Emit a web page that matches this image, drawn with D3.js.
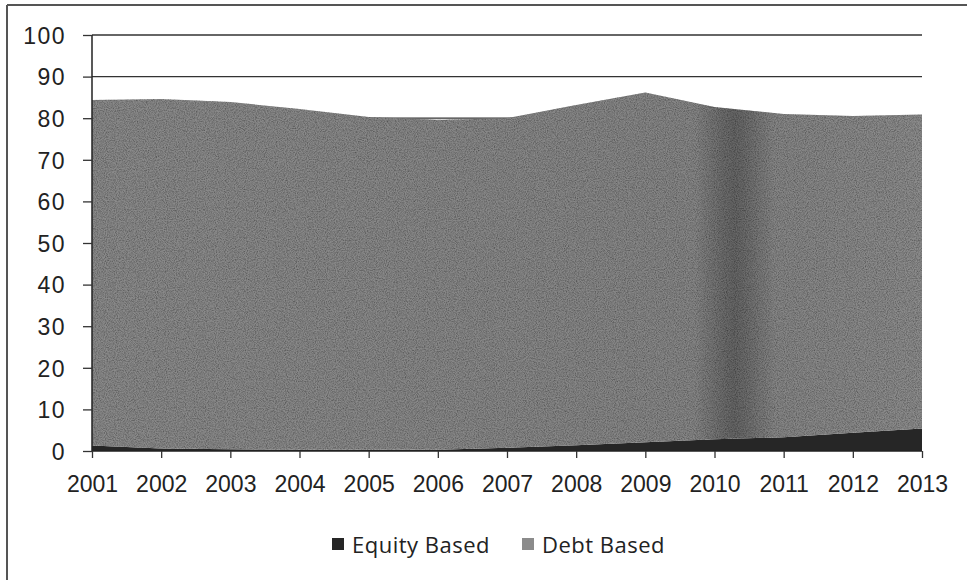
<!DOCTYPE html>
<html>
<head>
<meta charset="utf-8">
<script src="https://cdn.jsdelivr.net/npm/d3@7"></script>
<style>
  body { margin: 0; background: #fff; }
  svg { font-family: "Open Sans", "Liberation Sans", sans-serif; }
</style>
</head>
<body>
<svg id="chart"></svg>
<script>
const years = [2001, 2002, 2003, 2004, 2005, 2006, 2007, 2008, 2009, 2010, 2011, 2012, 2013];
const equityBased = [1.3, 0.6, 0.4, 0.3, 0.3, 0.3, 0.8, 1.4, 2.1, 2.8, 3.3, 4.4, 5.4];
const debtBased = [83.1, 84.0, 83.5, 81.9, 80.0, 79.3, 79.2, 81.8, 84.1, 79.9, 77.7, 76.1, 75.5];
const yTicks = [0, 10, 20, 30, 40, 50, 60, 70, 80, 90, 100];
const seriesNames = ["Equity Based", "Debt Based"];

const W = 967, H = 580;
const margin = { top: 35, right: 45, bottom: 129, left: 92 },
      width = W - margin.left - margin.right,
      height = H - margin.top - margin.bottom;

const svg = d3.select("#chart").attr("width", W).attr("height", H);

// outer frame (only top and left edges survive in the scan)
svg.append("line").attr("x1", 7).attr("x2", W).attr("y1", 5).attr("y2", 5)
   .attr("stroke", "#555").attr("stroke-width", 2);
svg.append("line").attr("x1", 7).attr("x2", 7).attr("y1", 5).attr("y2", H)
   .attr("stroke", "#555").attr("stroke-width", 2);

const g = svg.append("g").attr("transform", `translate(${margin.left},${margin.top})`);

const x = d3.scalePoint().domain(years).range([0, width]);
const y = d3.scaleLinear().domain([0, 100]).range([height, 0]);

const rows = years.map((yr, i) => ({ year: yr, equity: equityBased[i], debt: debtBased[i] }));
const layers = d3.stack().keys(["equity", "debt"])(rows);

// gridlines
g.selectAll(".grid").data(yTicks.filter(d => d > 0)).enter().append("line")
 .attr("x1", 0).attr("x2", width)
 .attr("y1", d => y(d)).attr("y2", d => y(d))
 .attr("stroke", "#333").attr("stroke-width", 1.3);

// darker scan band around 2010 + grain
const defs = svg.append("defs");
const grad = defs.append("linearGradient").attr("id", "debtGrad")
  .attr("gradientUnits", "userSpaceOnUse")
  .attr("x1", 0).attr("x2", width).attr("y1", 0).attr("y2", 0);
const bandC = x(2010) + 20, bw = 40;
[[0, "#8a8a8a"], [(bandC - bw) / width, "#868686"], [(bandC - 12) / width, "#6e6e6e"],
 [bandC / width, "#666"], [(bandC + 12) / width, "#6e6e6e"],
 [(bandC + bw) / width, "#868686"], [1, "#8c8c8c"]]
  .forEach(([o, c]) => grad.append("stop").attr("offset", o).attr("stop-color", c));

const grain = defs.append("filter").attr("id", "grain")
  .attr("x", 0).attr("y", 0).attr("width", 1).attr("height", 1);
grain.append("feTurbulence").attr("type", "fractalNoise")
  .attr("baseFrequency", 0.9).attr("numOctaves", 2).attr("seed", 3).attr("result", "noise");
grain.append("feColorMatrix").attr("in", "noise").attr("type", "matrix")
  .attr("values", "0 0 0 0 0  0 0 0 0 0  0 0 0 0 0  0 0 0 -1.1 0.75").attr("result", "dots");
grain.append("feComposite").attr("in", "dots").attr("in2", "SourceGraphic")
  .attr("operator", "in").attr("result", "dotsIn");
grain.append("feMerge").selectAll("feMergeNode")
  .data(["SourceGraphic", "dotsIn"]).enter().append("feMergeNode").attr("in", d => d);

const area = d3.area()
  .x(d => x(d.data.year))
  .y0(d => y(d[0]))
  .y1(d => y(d[1]));

const fills = ["#262626", "url(#debtGrad)"];
g.selectAll(".layer").data(layers).enter().append("path")
 .attr("d", area)
 .attr("fill", (d, i) => fills[i])
 .attr("filter", (d, i) => i === 1 ? "url(#grain)" : null);

// axes
const yAxis = g.append("g").call(d3.axisLeft(y).tickValues(yTicks).tickSize(9).tickPadding(17));
yAxis.select(".domain").attr("stroke", "#222").attr("stroke-width", 1.5).attr("d", `M0,${height}V0`);
yAxis.selectAll(".tick line").attr("stroke", "#333").attr("stroke-width", 1.3);
yAxis.selectAll("text").attr("fill", "#222").attr("dy", "0.36em")
     .style("font-size", "23px").style("letter-spacing", "1.5px");

const xAxis = g.append("g").attr("transform", `translate(0,${height})`)
  .call(d3.axisBottom(x).tickSize(7).tickPadding(18));
xAxis.select(".domain").attr("stroke", "#222").attr("stroke-width", 1.5).attr("d", `M0,0H${width}`);
xAxis.selectAll(".tick line").attr("stroke", "#333").attr("stroke-width", 1.3);
xAxis.selectAll("text").attr("fill", "#222").style("font-size", "23px");

// legend
const legendX = [332, 522];
const legendColors = ["#262626", "#8b8b8b"];
const legend = svg.append("g");
seriesNames.forEach((name, i) => {
  legend.append("rect").attr("x", legendX[i]).attr("y", 538)
        .attr("width", 12).attr("height", 12).attr("fill", legendColors[i]);
  legend.append("text").attr("x", legendX[i] + 20).attr("y", 553)
        .attr("fill", "#222").style("font-size", "22px").style("letter-spacing", "0.5px").text(name);
});
</script>
</body>
</html>
